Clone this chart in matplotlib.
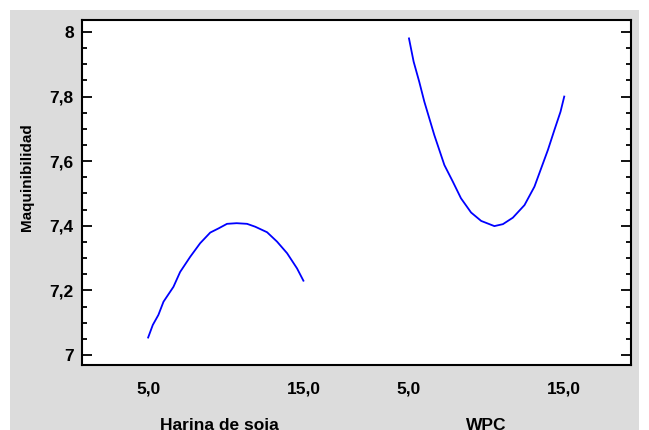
import matplotlib
matplotlib.use("Agg")
import matplotlib.pyplot as plt
from matplotlib.patches import Rectangle

plt.rcParams['font.family'] = ['Liberation Sans', 'DejaVu Sans']
plt.rcParams['font.weight'] = 'bold'

# Harina de soja effect
soja_x = [5.0, 5.30, 5.66, 5.99, 6.63, 7.06, 7.71, 8.35, 9.0, 9.54, 10.08, 10.7,
          11.37, 11.9, 12.66, 13.30, 13.95, 14.59, 15.0]
soja_y = [7.054, 7.093, 7.124, 7.165, 7.211, 7.257, 7.304, 7.346, 7.379, 7.392, 7.406, 7.408,
          7.406, 7.397, 7.380, 7.351, 7.315, 7.268, 7.230]

# WPC effect
wpc_x = [5.0, 5.30, 5.66, 5.99, 6.63, 7.28, 7.82, 8.35, 9.0, 9.65, 10.5, 11.05,
         11.69, 12.44, 13.08, 13.95, 14.37, 14.76, 15.0]
wpc_y = [7.980, 7.908, 7.846, 7.784, 7.681, 7.588, 7.537, 7.485, 7.441, 7.415, 7.399, 7.405,
         7.425, 7.464, 7.521, 7.635, 7.697, 7.753, 7.800]

factors = ['Harina de soja', 'WPC']
level_labels = ['5,0', '15,0']
levels = [5.0, 15.0]
y_ticks = [7.0, 7.2, 7.4, 7.6, 7.8, 8.0]
y_labels = ['7', '7,2', '7,4', '7,6', '7,8', '8']

W, H = 649, 430
offset = 16.8  # horizontal shift of the second factor

fig = plt.figure(figsize=(W / 100, H / 100), dpi=100)
fig.patches.append(Rectangle((10 / W, 0), 629 / W, 420 / H, transform=fig.transFigure,
                             facecolor='#dcdcdc', edgecolor='none', zorder=-10))

ax = fig.add_axes([82 / W, (H - 365) / H, 549 / W, 345 / H])
ax.plot(soja_x, soja_y, color='#0000ff', lw=1.3)
ax.plot([x + offset for x in wpc_x], wpc_y, color='#0000ff', lw=1.3)

ax.set_xlim(0.74, 36.1)
ax.set_ylim(6.969, 8.037)

ax.set_yticks(y_ticks)
ax.set_yticklabels(y_labels)
ax.set_yticks([7.05, 7.1, 7.15, 7.25, 7.3, 7.35, 7.45, 7.5, 7.55, 7.65, 7.7, 7.75,
               7.85, 7.9, 7.95], minor=True)
ax.tick_params(axis='y', which='both', direction='in', left=True, right=True,
               width=1.3, labelsize=12.5, pad=6)
ax.tick_params(axis='y', which='major', length=7)
ax.tick_params(axis='y', which='minor', length=3.5)

xt = levels + [v + offset for v in levels]
ax.set_xticks(xt)
ax.set_xticklabels(level_labels * 2)
ax.tick_params(axis='x', length=0, labelsize=12.5, pad=12)

for s in ax.spines.values():
    s.set_linewidth(1.5)

for name, cx in zip(factors, [219, 486]):
    fig.text(cx / W, (H - 430) / H, name, ha='center', va='baseline', fontsize=12.5,
             fontweight='bold')

fig.text(27 / W, (H - 177) / H, 'Maquinibilidad', rotation=90, ha='center', va='center',
         fontsize=11, fontweight='bold')

fig.savefig('out.png', dpi=100)
